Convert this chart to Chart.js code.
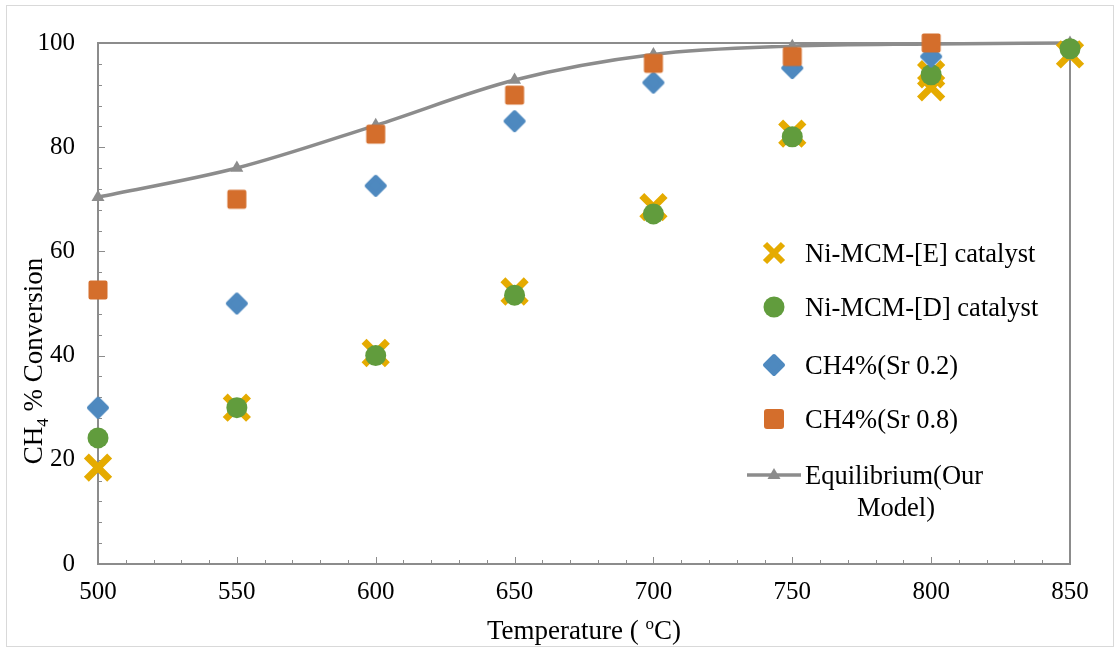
<!DOCTYPE html>
<html>
<head>
<meta charset="utf-8">
<script src="https://cdn.jsdelivr.net/npm/chart.js@4/dist/chart.umd.min.js"></script>
<style>
  html, body { margin: 0; padding: 0; background: #fff; }
  #wrap { position: relative; width: 1117px; height: 647px; overflow: hidden; }
  #chart { position: absolute; left: 0; top: 0; }
  #frame {
    position: absolute; left: 6px; top: 5px; width: 1108px; height: 642px;
    border: 1px solid #d9d9d9; box-sizing: border-box; pointer-events: none;
  }
  #legend { position: absolute; left: 0; top: 0; font-family: 'Liberation Serif', serif; font-size: 26.5px; color: #000; }
  .legend-item { position: absolute; white-space: nowrap; line-height: 30px; }
  .legend-key { position: absolute; }
</style>
</head>
<body>
<div id="wrap">
  <canvas id="chart" width="1117" height="647"></canvas>
  <div id="legend"></div>
  <div id="frame"></div>
</div>
<script>
'use strict';

// ---- data ----
const temps       = [500, 550, 600, 650, 700, 750, 800, 850];
const catETemps   = [500, 550, 600, 650, 700, 750, 800, 800, 850];
const catEValues  = [18.5, 30, 40.5, 52.3, 68.5, 82.6, 94, 91.5, 97.8];
const catDValues  = [24.2, 30, 40, 51.6, 67.2, 82, 93.9, 98.9];
const srTemps     = [500, 550, 600, 650, 700, 750, 800];
const sr02Values  = [30, 50, 72.6, 85, 92.4, 95.2, 97.4];
const sr08Values  = [52.6, 70, 82.5, 90, 96.1, 97.4, 100];
const equilValues = [70.4, 76, 84.2, 92.9, 97.8, 99.4, 99.8, 100];

const seriesLabels = ['Ni-MCM-[E] catalyst', 'Ni-MCM-[D] catalyst', 'CH4%(Sr 0.2)', 'CH4%(Sr 0.8)', 'Equilibrium(Our Model)'];

const C_GOLD   = '#E5AB00';
const C_GREEN  = '#619C3D';
const C_BLUE   = '#4E89BF';
const C_ORANGE = '#D46E2C';
const C_GRAY   = '#8C8C8C';
const AXIS     = '#8C8C8C';
const FONT     = "'Liberation Serif', 'Times New Roman', serif";

const pts = (xs, ys) => xs.map((x, i) => ({ x, y: ys[i] }));

// rounded marker images (Excel-like soft corners)
function markerCanvas(kind, color) {
  const c = document.createElement('canvas');
  c.width = 24; c.height = 24;
  const g = c.getContext('2d');
  g.fillStyle = color; g.strokeStyle = color;
  g.lineJoin = 'round'; g.lineWidth = 4;
  g.beginPath();
  if (kind === 'square') {
    g.rect(4.5, 4.5, 15, 15);
  } else {
    g.moveTo(12, 3); g.lineTo(21, 12); g.lineTo(12, 21); g.lineTo(3, 12); g.closePath();
  }
  g.fill(); g.stroke();
  return c;
}

// axes box + inward ticks + axis titles
const axesPlugin = {
  id: 'axesPlugin',
  beforeDatasetsDraw(chart) {
    const { ctx, chartArea: a, scales: { x, y } } = chart;
    ctx.save();
    ctx.strokeStyle = AXIS;
    ctx.lineWidth = 1;
    ctx.beginPath();
    for (let v = 500; v <= 850; v += 10) {
      const px = Math.round(x.getPixelForValue(v)) + 0.5;
      const len = v % 50 === 0 ? 7 : 4;
      ctx.moveTo(px, a.bottom); ctx.lineTo(px, a.bottom - len);
    }
    for (let v = 0; v <= 100; v += 4) {
      const py = Math.round(y.getPixelForValue(v)) + 0.5;
      const len = v % 20 === 0 ? 7 : 4;
      ctx.moveTo(a.left, py); ctx.lineTo(a.left + len, py);
    }
    ctx.stroke();
    ctx.lineWidth = 2;
    ctx.strokeRect(a.left, a.top, a.right - a.left, a.bottom - a.top);
    ctx.restore();
  },
  afterDraw(chart) {
    const { ctx, chartArea: a } = chart;
    ctx.save();
    ctx.fillStyle = '#000';
    ctx.textBaseline = 'alphabetic';
    // x title with superscript o
    const big = '27px ' + FONT, small = '17px ' + FONT;
    ctx.font = big;
    const p1 = 'Temperature ( ', p3 = 'C)';
    const w1 = ctx.measureText(p1).width, w3 = ctx.measureText(p3).width;
    ctx.font = small;
    const w2 = ctx.measureText('o').width;
    let sx = (a.left + a.right) / 2 - (w1 + w2 + w3) / 2;
    const by = 639;
    ctx.font = big; ctx.fillText(p1, sx, by); sx += w1;
    ctx.font = small; ctx.fillText('o', sx, by - 10); sx += w2;
    ctx.font = big; ctx.fillText(p3, sx, by);
    // y title with subscript 4
    ctx.translate(42, 361);
    ctx.rotate(-Math.PI / 2);
    ctx.font = big;
    const q1 = 'CH', q3 = ' % Conversion';
    const v1 = ctx.measureText(q1).width, v3 = ctx.measureText(q3).width;
    ctx.font = small;
    const v2 = ctx.measureText('4').width;
    let sy = -(v1 + v2 + v3) / 2;
    ctx.font = big; ctx.fillText(q1, sy, 0); sy += v1;
    ctx.font = small; ctx.fillText('4', sy, 6); sy += v2;
    ctx.font = big; ctx.fillText(q3, sy, 0);
    ctx.restore();
  }
};

const chart = new Chart(document.getElementById('chart'), {
  type: 'scatter',
  data: {
    datasets: [
      {
        label: seriesLabels[3],
        data: pts(srTemps, sr08Values),
        pointStyle: markerCanvas('square', C_ORANGE), pointRadius: 11,
        backgroundColor: C_ORANGE, borderColor: C_ORANGE,
        order: 0, clip: false,
      },
      {
        label: seriesLabels[2],
        data: pts(srTemps, sr02Values),
        pointStyle: markerCanvas('diamond', C_BLUE), pointRadius: 11,
        backgroundColor: C_BLUE, borderColor: C_BLUE,
        order: 1, clip: false,
      },
      {
        label: seriesLabels[1],
        data: pts(temps, catDValues),
        pointStyle: 'circle', pointRadius: 10.5, pointHoverRadius: 10.5,
        backgroundColor: C_GREEN, borderColor: C_GREEN, borderWidth: 0,
        order: 2, clip: false,
      },
      {
        label: seriesLabels[0],
        data: pts(catETemps, catEValues),
        pointStyle: 'crossRot', pointRadius: 16.5, pointHoverRadius: 16.5,
        backgroundColor: C_GOLD, borderColor: C_GOLD, borderWidth: 7,
        order: 3, clip: false,
      },
      {
        label: seriesLabels[4],
        data: pts(temps, equilValues),
        showLine: true, cubicInterpolationMode: 'monotone',
        borderColor: C_GRAY, borderWidth: 3.5,
        pointStyle: 'triangle', pointRadius: 7.5, pointHoverRadius: 7.5,
        pointBackgroundColor: C_GRAY, pointBorderColor: C_GRAY, pointBorderWidth: 0,
        order: 4, clip: false,
      },
    ],
  },
  options: {
    responsive: false,
    animation: false,
    layout: { padding: { top: 43, right: 47, left: 0, bottom: 0 } },
    plugins: {
      legend: { display: false },
      tooltip: { enabled: false },
    },
    scales: {
      x: {
        type: 'linear', min: 500, max: 850,
        ticks: { stepSize: 50, color: '#000', font: { family: FONT, size: 25 }, padding: 13 },
        grid: { display: false, drawTicks: false },
        border: { display: false },
        afterFit: s => { s.height = 83; },
      },
      y: {
        type: 'linear', min: 0, max: 100,
        ticks: { stepSize: 20, color: '#000', font: { family: FONT, size: 25 }, padding: 23 },
        grid: { display: false, drawTicks: false },
        border: { display: false },
        afterFit: s => { s.width = 98; },
      },
    },
  },
  plugins: [axesPlugin],
});

// ---- HTML legend ----
function keySvg(kind, color) {
  const svgs = {
    cross: `<svg width="30" height="30"><path d="M6 6L24 24M24 6L6 24" stroke="${color}" stroke-width="6"/></svg>`,
    circle: `<svg width="30" height="30"><circle cx="15" cy="15" r="10.5" fill="${color}"/></svg>`,
    diamond: `<svg width="30" height="30"><path d="M15 6L24 15L15 24L6 15Z" fill="${color}" stroke="${color}" stroke-linejoin="round" stroke-width="4"/></svg>`,
    square: `<svg width="30" height="30"><rect x="5" y="5" width="20" height="20" rx="3" fill="${color}"/></svg>`,
    line: `<svg width="56" height="30"><path d="M1 15H55" stroke="${color}" stroke-width="3.5"/><path d="M28 8L34.5 19H21.5Z" fill="${color}"/></svg>`,
  };
  return svgs[kind];
}

function renderLegend(containerId) {
  const container = document.getElementById(containerId);
  const rows = [
    { kind: 'cross',   color: C_GOLD,   label: seriesLabels[0], cy: 253 },
    { kind: 'circle',  color: C_GREEN,  label: seriesLabels[1], cy: 307 },
    { kind: 'diamond', color: C_BLUE,   label: seriesLabels[2], cy: 365 },
    { kind: 'square',  color: C_ORANGE, label: seriesLabels[3], cy: 419 },
  ];
  let html = rows.map(r => `
    <div class="legend-key" style="left:${774 - 15}px;top:${r.cy - 15}px;">${keySvg(r.kind, r.color)}</div>
    <div class="legend-item" style="left:805px;top:${r.cy - 15}px;">${r.label}</div>`).join('');
  html += `
    <div class="legend-key" style="left:746px;top:${475 - 15}px;">${keySvg('line', C_GRAY)}</div>
    <div class="legend-item" style="left:805px;top:${475 - 15}px;">Equilibrium(Our</div>
    <div class="legend-item" style="left:805px;width:182px;text-align:center;top:${507 - 15}px;">Model)</div>`;
  container.innerHTML = html;
}
renderLegend('legend');
</script>
</body>
</html>
